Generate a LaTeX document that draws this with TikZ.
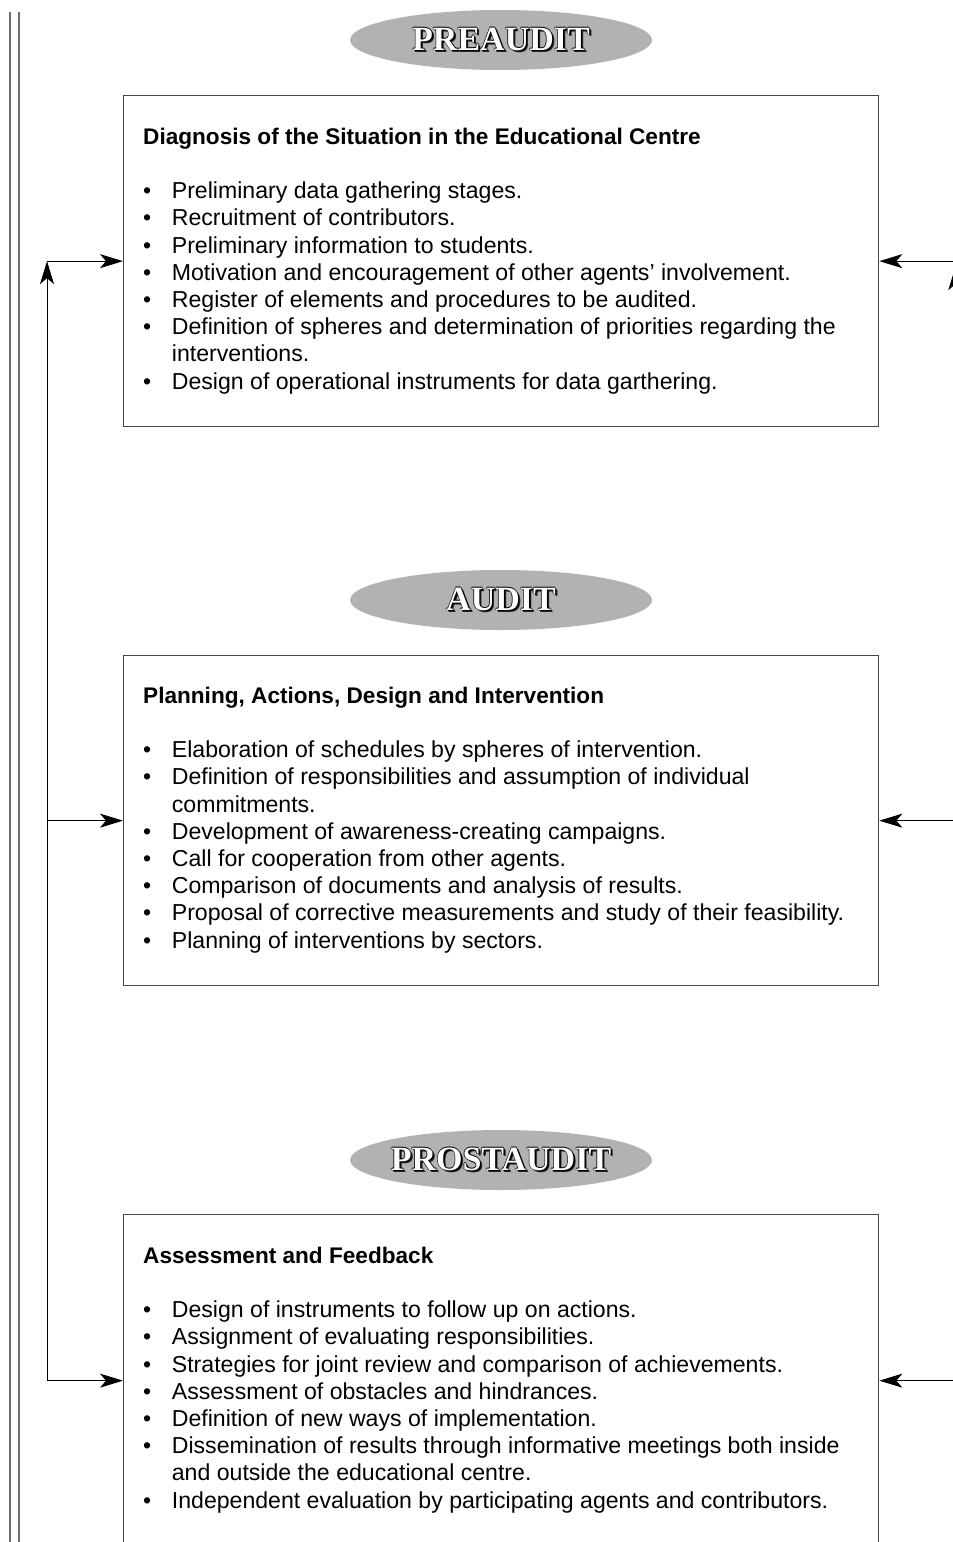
\documentclass[tikz,border=0pt]{standalone}
\usepackage{fontspec}
\setmainfont{Liberation Sans}
\newfontfamily\titlefont{Liberation Serif}
\usetikzlibrary{arrows.meta,calc,shapes.geometric}
\definecolor{ellgray}{RGB}{178,178,178}
\definecolor{boxline}{RGB}{70,70,70}
\definecolor{sideline}{RGB}{110,110,110}
\newcommand\engr[1]{\makebox[0pt]{%
 \rlap{\kern2.2pt\raisebox{-2.2pt}{\color{black!85}#1}}%
 \rlap{\kern1.4pt\raisebox{-1.4pt}{\color{black}#1}}%
 \rlap{\kern-0.6pt\color{black}#1}\rlap{\kern0.6pt\color{black}#1}%
 \rlap{\raisebox{0.6pt}{\color{black}#1}}\rlap{\raisebox{-0.6pt}{\color{black}#1}}%
 {\color{white}#1}}}
\newcommand\itm[1]{\makebox[28.7pt][l]{\textbullet}#1}
\newcommand\cnt[1]{\hspace*{28.7pt}#1}
\newcommand\hd[1]{{\fontsize{22.6}{27.2}\selectfont\textbf{#1}}}
\tikzset{
  phase/.style={ellipse, fill=ellgray, minimum width=302pt, minimum height=60pt, inner sep=0pt,
    font=\titlefont\bfseries\fontsize{34}{34}\selectfont},
  stagebox/.style={draw=boxline, line width=1.3pt, rectangle, minimum width=755pt, inner sep=0pt, anchor=north west},
  content/.style={anchor=base west, inner sep=0pt, align=left, font=\fontsize{23.1}{27.2}\selectfont},
  conn/.style={line width=1pt, -{Stealth[length=23pt,width=14pt,inset=6pt]}},
  side/.style={draw=sideline, line width=1.5pt},
}
\begin{document}
\begin{tikzpicture}[x=1pt,y=-1pt]
\useasboundingbox (0,0) rectangle (953,1542);
% side double lines
\coordinate (d1t) at (10,12); \coordinate (d1b) at (10,1560);
\coordinate (d2t) at (19,12); \coordinate (d2b) at (19,1560);
\draw[side] (d1t) -- (d1b);
\draw[side] (d2t) -- (d2b);
% phase ellipses
\node[phase] (e1) at (501,40) {\engr{PREAUDIT}};
\node[phase] (e2) at (501,600) {\engr{AUDIT}};
\node[phase] (e3) at (501,1160) {\engr{PROSTAUDIT}};
% boxes
\node[stagebox, minimum height=331pt] (b1) at (123,95) {};
\node[stagebox, minimum height=330pt] (b2) at (123,655) {};
\node[stagebox, minimum height=332pt] (b3) at (123,1214) {};
% contents
\node[content] (t1) at (143,389) {\hd{Diagnosis of the Situation in the Educational Centre}\\[27.2pt]
\itm{Preliminary data gathering stages.}\\
\itm{Recruitment of contributors.}\\
\itm{Preliminary information to students.}\\
\itm{Motivation and encouragement of other agents’ involvement.}\\
\itm{Register of elements and procedures to be audited.}\\
\itm{Definition of spheres and determination of priorities regarding the}\\
\cnt{interventions.}\\
\itm{Design of operational instruments for data garthering.}};
\node[content] (t2) at (143,948) {\hd{Planning, Actions, Design and Intervention}\\[27.2pt]
\itm{Elaboration of schedules by spheres of intervention.}\\
\itm{Definition of responsibilities and assumption of individual}\\
\cnt{commitments.}\\
\itm{Development of awareness-creating campaigns.}\\
\itm{Call for cooperation from other agents.}\\
\itm{Comparison of documents and analysis of results.}\\
\itm{Proposal of corrective measurements and study of their feasibility.}\\
\itm{Planning of interventions by sectors.}};
\node[content] (t3) at (143,1508) {\hd{Assessment and Feedback}\\[27.2pt]
\itm{Design of instruments to follow up on actions.}\\
\itm{Assignment of evaluating responsibilities.}\\
\itm{Strategies for joint review and comparison of achievements.}\\
\itm{Assessment of obstacles and hindrances.}\\
\itm{Definition of new ways of implementation.}\\
\itm{Dissemination of results through informative meetings both inside}\\
\cnt{and outside the educational centre.}\\
\itm{Independent evaluation by participating agents and contributors.}};
% left feedback connectors
\coordinate (l1) at ($(b1.west)+(-76,0)$);
\coordinate (l2) at ($(b2.west)+(-76,0)$);
\coordinate (l3) at ($(b3.west)+(-76,0)$);
\draw[conn] (l3) -- (l1);
\draw[conn] (l1) -- (b1.west);
\draw[conn] (l2) -- (b2.west);
\draw[conn] (l3) -- (b3.west);
% right connectors
\coordinate (r1) at ($(b1.east)+(76,0)$);
\coordinate (r2) at ($(b2.east)+(76,0)$);
\coordinate (r3) at ($(b3.east)+(76,0)$);
\coordinate (rv1) at ($(b1.east)+(76,6)$);
\coordinate (rv3) at ($(b3.east)+(76,0)$);
\draw[conn] (rv3) -- (rv1);
\draw[conn] (r1) -- (b1.east);
\draw[conn] (r2) -- (b2.east);
\draw[conn] (r3) -- (b3.east);
\end{tikzpicture}
\end{document}
